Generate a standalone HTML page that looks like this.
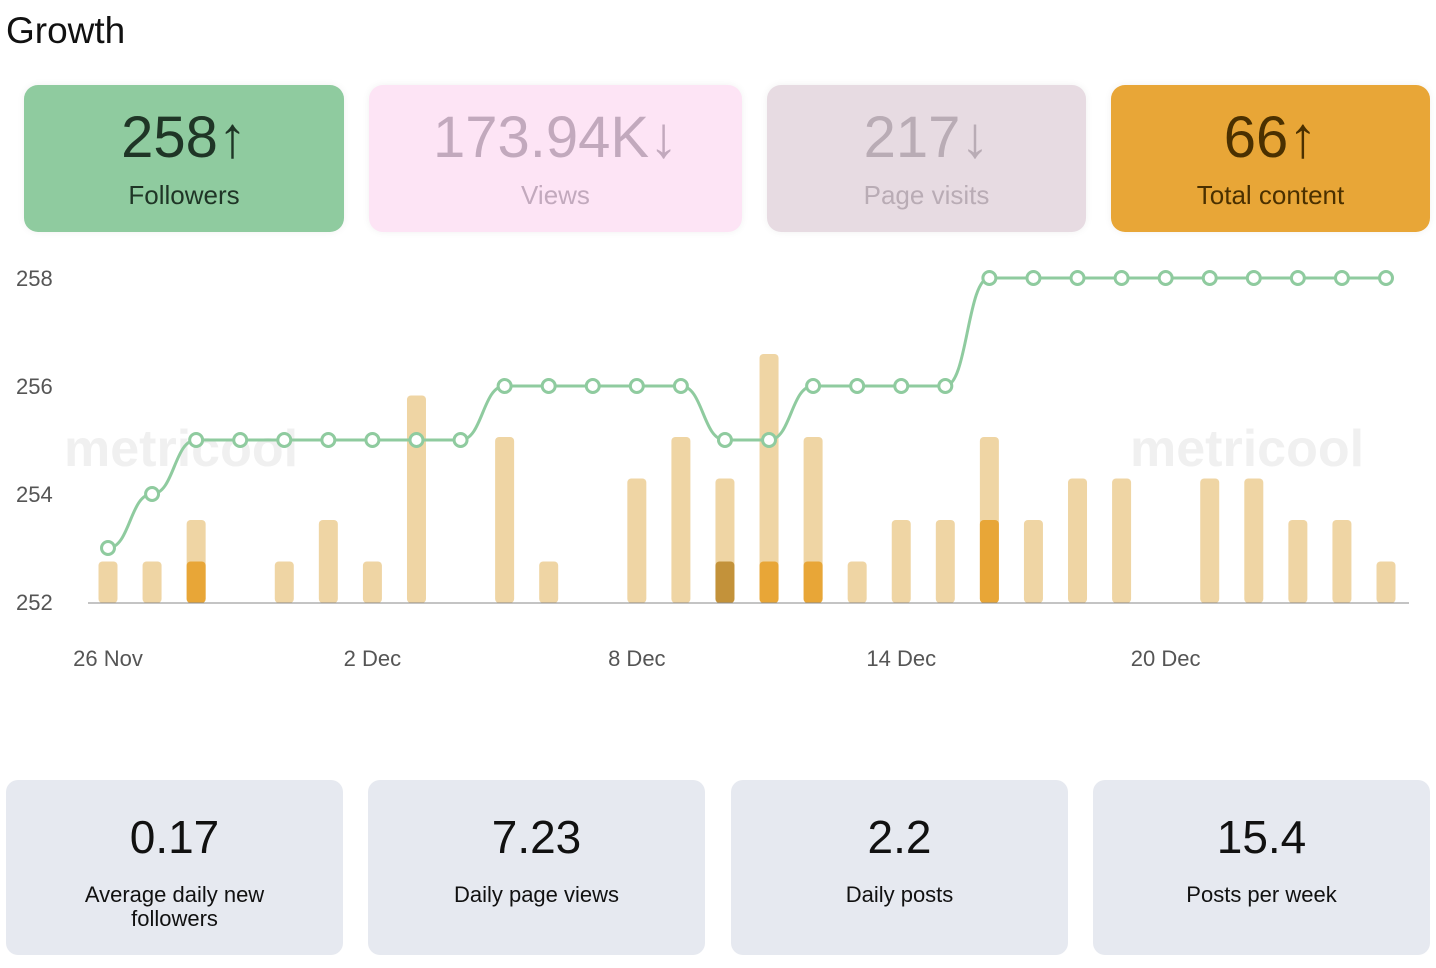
<!DOCTYPE html>
<html><head><meta charset="utf-8"><style>
body{margin:0;width:1436px;height:968px;background:#fff;font-family:"Liberation Sans",sans-serif;position:relative;overflow:hidden}
.t{position:absolute;left:6px;top:10px;font-size:37px;color:#111}
.card{position:absolute;top:85px;height:147px;border-radius:14px;text-align:center;box-shadow:0 0 8px rgba(0,0,0,0.06)}
.card .n{position:absolute;left:0;right:0;top:20px;font-size:58px;line-height:66px}
.card .l{position:absolute;left:0;right:0;top:95px;font-size:26px}
.bc{position:absolute;top:780px;height:175px;background:#e6e9f0;border-radius:12px;text-align:center;color:#111}
.bc .n{position:absolute;left:0;right:0;top:30px;font-size:46px}
.bc .l{position:absolute;left:0;right:0;top:103px;font-size:22px;line-height:24px}
</style></head><body>
<div class="t">Growth</div>
<div class="card" style="left:24px;width:320px;background:#8fcb9f;color:#1f3526"><div class="n">258↑</div><div class="l">Followers</div></div>
<div class="card" style="left:369px;width:373px;background:#fde4f5;color:#c2a9bd"><div class="n">173.94K↓</div><div class="l">Views</div></div>
<div class="card" style="left:767px;width:319px;background:#e7dbe2;color:#b9acb5"><div class="n">217↓</div><div class="l">Page visits</div></div>
<div class="card" style="left:1111px;width:319px;background:#e8a637;color:#4a3000"><div class="n">66↑</div><div class="l">Total content</div></div>

<svg id="chart" width="1436" height="700" style="position:absolute;left:0;top:0">
<text x="64" y="466" font-size="52" font-weight="bold" fill="#f0f0f0" font-family="Liberation Sans">metricool</text>
<text x="1130" y="466" font-size="52" font-weight="bold" fill="#f0f0f0" font-family="Liberation Sans">metricool</text>
</svg>

<div class="bc" style="left:6px;width:337px"><div class="n">0.17</div><div class="l">Average daily new<br>followers</div></div>
<div class="bc" style="left:368px;width:337px"><div class="n">7.23</div><div class="l">Daily page views</div></div>
<div class="bc" style="left:731px;width:337px"><div class="n">2.2</div><div class="l">Daily posts</div></div>
<div class="bc" style="left:1093px;width:337px"><div class="n">15.4</div><div class="l">Posts per week</div></div>

<script>
const followers=[253,254,255,255,255,255,255,255,255,256,256,256,256,256,255,255,256,256,256,256,258,258,258,258,258,258,258,258,258,258];
const posts=[1,1,2,0,1,2,1,5,0,4,1,0,3,4,3,6,4,1,2,2,4,2,3,3,0,3,3,2,2,1];
const highlight=[0,0,1,0,0,0,0,0,0,0,0,0,0,0,1,1,1,0,0,0,2,0,0,0,0,0,0,0,0,0];
const highlightDark=[0,0,0,0,0,0,0,0,0,0,0,0,0,0,1,0,0,0,0,0,0,0,0,0,0,0,0,0,0,0];
const yTicks=[252,254,256,258];
const xTicks=[[0,"26 Nov"],[6,"2 Dec"],[12,"8 Dec"],[18,"14 Dec"],[24,"20 Dec"]];
const svg=document.getElementById('chart');
const NS="http://www.w3.org/2000/svg";
const x=i=>108+i*(1386-108)/29;
const y=v=>602-(v-252)*54;
const yb=v=>603-v*41.5;
function mk(t,a){const e=document.createElementNS(NS,t);for(const k in a)e.setAttribute(k,a[k]);svg.appendChild(e);return e;}
yTicks.forEach(v=>{const e=mk('text',{x:16,y:y(v)+8,'font-size':22,fill:'#555','font-family':'Liberation Sans'});e.textContent=v;

});
xTicks.forEach(([i,l])=>{const e=mk('text',{x:x(i),y:666,'font-size':22,fill:'#555','text-anchor':'middle','font-family':'Liberation Sans'});e.textContent=l;

});
posts.forEach((v,i)=>{if(!v)return;const r=mk('rect',{x:x(i)-9.5,y:yb(v),width:19,height:603-yb(v),rx:4,fill:'#efd5a4'});


if(highlight[i]){const h=mk('rect',{x:x(i)-9.5,y:yb(highlight[i]),width:19,height:603-yb(highlight[i]),rx:4,fill:highlightDark[i]?'#c3923a':'#e8a637'});

}});
const ax=mk('line',{x1:88,x2:1409,y1:603,y2:603,stroke:'#888','stroke-width':1});


let d='';followers.forEach((v,i)=>{const px=x(i),py=y(v);if(i===0)d=`M${px},${py}`;else{const qx=x(i-1),qy=y(followers[i-1]);const c=(px-qx)/2;d+=` C${qx+c},${qy} ${px-c},${py} ${px},${py}`;}});
const p=mk('path',{d,fill:'none',stroke:'#8fcb9f','stroke-width':3});


followers.forEach((v,i)=>{const c=mk('circle',{cx:x(i),cy:y(v),r:6.5,fill:'#fff',stroke:'#8fcb9f','stroke-width':3});

});
</script>
</body></html>
